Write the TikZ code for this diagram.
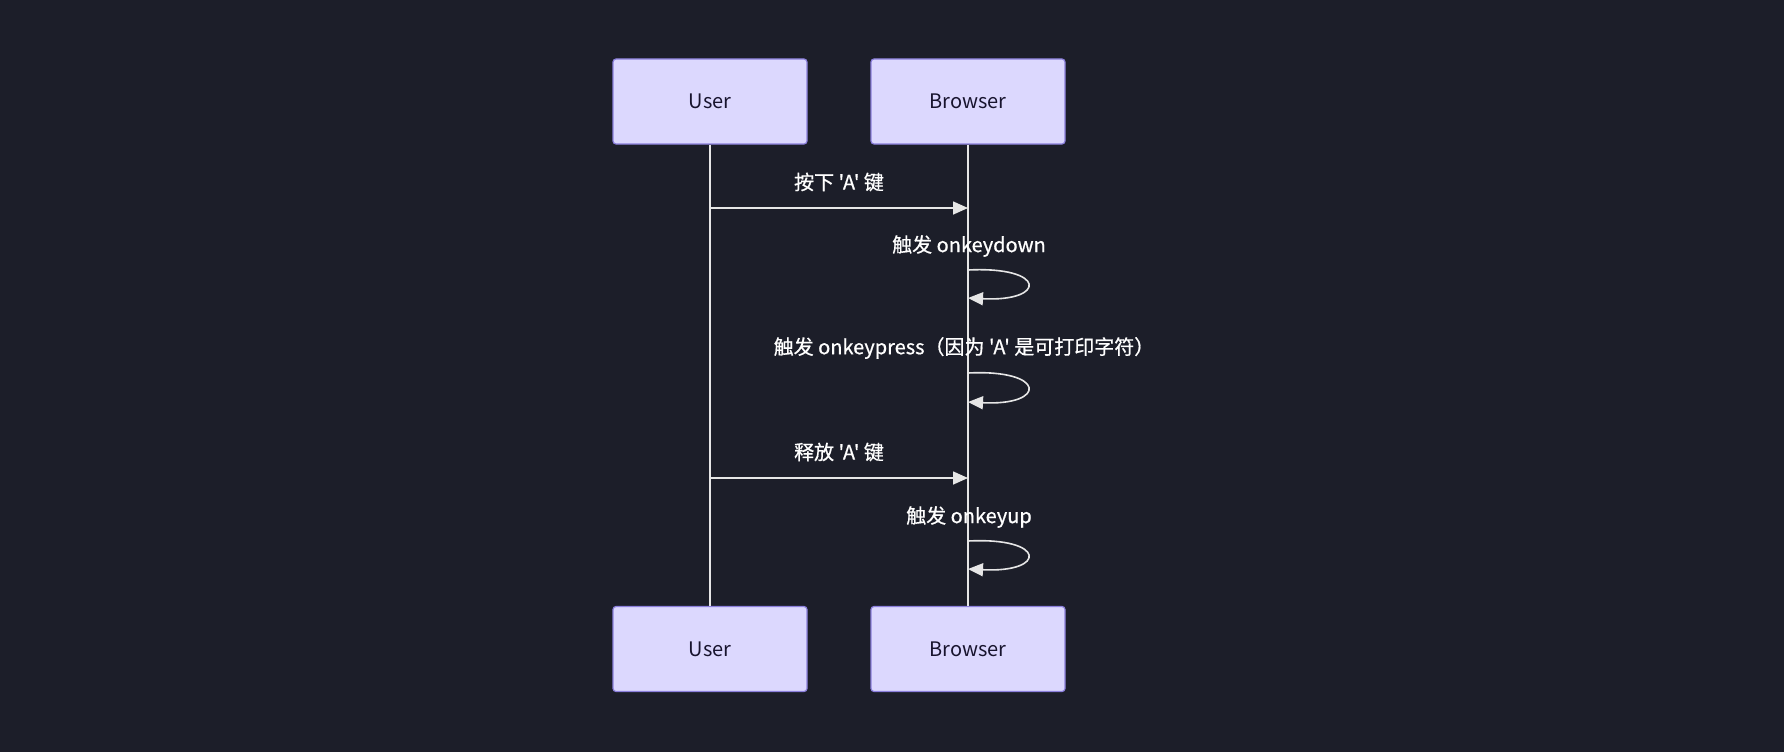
\documentclass[tikz,border=0pt]{standalone}
\usepackage{fontspec}
\newfontfamily\cjk{Noto Sans CJK SC}
\newfontfamily\cjkmsg{Noto Sans CJK SC}[FakeBold=0.7]
\usetikzlibrary{arrows.meta}

\definecolor{bgdark}{HTML}{1C1E29}
\definecolor{actorfill}{HTML}{DCD8FE}
\definecolor{actorline}{HTML}{8B7FDC}
\definecolor{actortext}{HTML}{18142E}
\definecolor{msgline}{HTML}{E6E6E6}

\tikzset{
  actor/.style={draw=actorline, fill=actorfill, text=actortext,
    rounded corners=3pt, line width=1.2pt,
    minimum width=194pt, minimum height=85pt, font=\cjk\fontsize{20}{24}\selectfont},
  lifeline/.style={draw=msgline, line width=1.8pt},
  msg/.style={draw=msgline, line width=1.6pt, -{Triangle[length=15pt,width=13pt]}},
  msglabel/.style={text=white, font=\cjkmsg\fontsize{20}{24}\selectfont, inner sep=0pt}
}

\begin{document}
\begin{tikzpicture}[x=1pt,y=-1pt]

% Background
\fill[bgdark] (0,0) rectangle (1784,752);
\useasboundingbox (0,0) rectangle (1784,752);

% Actors (top)
\node[actor] (userTop) at (710,101.5) {User};
\node[actor] (browserTop) at (968,101.5) {Browser};

% Actors (bottom)
\node[actor] (userBot) at (710,649) {User};
\node[actor] (browserBot) at (968,649) {Browser};

% Lifelines
\draw[lifeline] (userTop) -- (userBot);
\draw[lifeline] (browserTop) -- (browserBot);

% Points on the lifelines
\coordinate (u1) at (710,208);
\coordinate (b1) at (968,208);
\coordinate (b2) at (968,270);
\coordinate (b3) at (968,298);
\coordinate (b4) at (968,373);
\coordinate (b5) at (968,402);
\coordinate (u6) at (710,478);
\coordinate (b6) at (968,478);
\coordinate (b7) at (968,541);
\coordinate (b8) at (968,569);

% Messages
\node[msglabel] (press) at (839,182) {按下 'A' 键};
\draw[msg] (u1) -- (b1);

\node[msglabel] (keydown) at (969,246) {触发 onkeydown};
\draw[msg] (b2) .. controls +(79,-4) and +(79,4) .. (b3);

\node[msglabel] (keypress) at (964,348) {触发 onkeypress（因为 'A' 是可打印字符）};
\draw[msg] (b4) .. controls +(79,-4) and +(79,4) .. (b5);

\node[msglabel] (release) at (839,452) {释放 'A' 键};
\draw[msg] (u6) -- (b6);

\node[msglabel] (keyup) at (969,517) {触发 onkeyup};
\draw[msg] (b7) .. controls +(79,-4) and +(79,4) .. (b8);

\end{tikzpicture}
\end{document}
